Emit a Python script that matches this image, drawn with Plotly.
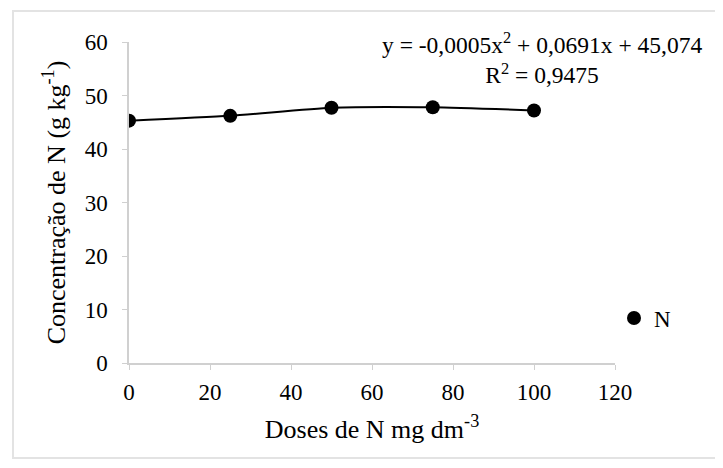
import plotly.graph_objects as go

doses = [0, 25, 50, 75, 100]
conc_n = [45.3, 46.2, 47.7, 47.8, 47.2]
x_ticks = [0, 20, 40, 60, 80, 100, 120]
y_ticks = [0, 10, 20, 30, 40, 50, 60]
series_name = "N"
eq_text = "y = -0,0005x<sup>2</sup> + 0,0691x + 45,074<br>R<sup>2</sup> = 0,9475"

OFF = 8  # default page body margin
W, H = 723 - OFF, 468 - OFF
# plot area in window pixels: x 129..615, y 42..363
L, R, T, B = 129 - OFF, 723 - 615, 42 - OFF, 468 - 363
pw, ph = W - L - R, H - T - B

def px_x(p):
    return (p - OFF - L) / pw

def px_y(p):
    return (H - B - (p - OFF)) / ph

FONT = "Liberation Serif"

fig = go.Figure()
fig.add_trace(go.Scatter(
    x=doses, y=conc_n, mode="lines", showlegend=False, hoverinfo="skip",
    line=dict(color="black", width=2, shape="spline", smoothing=0.6),
))
fig.add_trace(go.Scatter(
    x=doses, y=conc_n, mode="markers", name=series_name,
    marker=dict(color="black", size=14),
))

fig.update_layout(
    width=W, height=H,
    margin=dict(l=L, r=R, t=T, b=B, pad=0),
    paper_bgcolor="white", plot_bgcolor="white",
    font=dict(family=FONT, size=23, color="black"),
    showlegend=True,
    legend=dict(x=px_x(614), y=px_y(318), xanchor="left", yanchor="middle",
                bgcolor="rgba(0,0,0,0)", font=dict(size=23, family=FONT),
                itemwidth=30, tracegroupgap=0),
    xaxis=dict(range=[0, 120], tickvals=x_ticks, showgrid=False, zeroline=False,
               showline=True, linecolor="#d0d0d0", linewidth=1.5,
               ticks="outside", ticklen=5, tickcolor="#d0d0d0",
               ticklabelstandoff=3,
               tickfont=dict(size=23, family=FONT),
               title=dict(text="Doses de N mg dm<sup>-3</sup>", font=dict(size=26, family=FONT), standoff=15)),
    yaxis=dict(range=[0, 60], tickvals=y_ticks, showgrid=False, zeroline=False,
               showline=True, linecolor="#d0d0d0", linewidth=1.5,
               ticks="outside", ticklen=5, tickcolor="#d0d0d0",
               ticklabelstandoff=10,
               tickfont=dict(size=23, family=FONT),
               title=dict(text="Concentração de N (g kg<sup>-1</sup>)", font=dict(size=26, family=FONT), standoff=12)),
)

fig.add_annotation(
    x=px_x(542), y=px_y(58), xref="paper", yref="paper",
    xanchor="center", yanchor="middle",
    text=eq_text, showarrow=False, align="center",
    font=dict(size=23.5, family=FONT, color="black"),
)

fig.add_shape(type="rect", xref="paper", yref="paper",
              x0=px_x(13), x1=px_x(760), y0=px_y(458), y1=px_y(11),
              line=dict(color="#e3e3e3", width=2), layer="below")

fig.write_html("out.html")
